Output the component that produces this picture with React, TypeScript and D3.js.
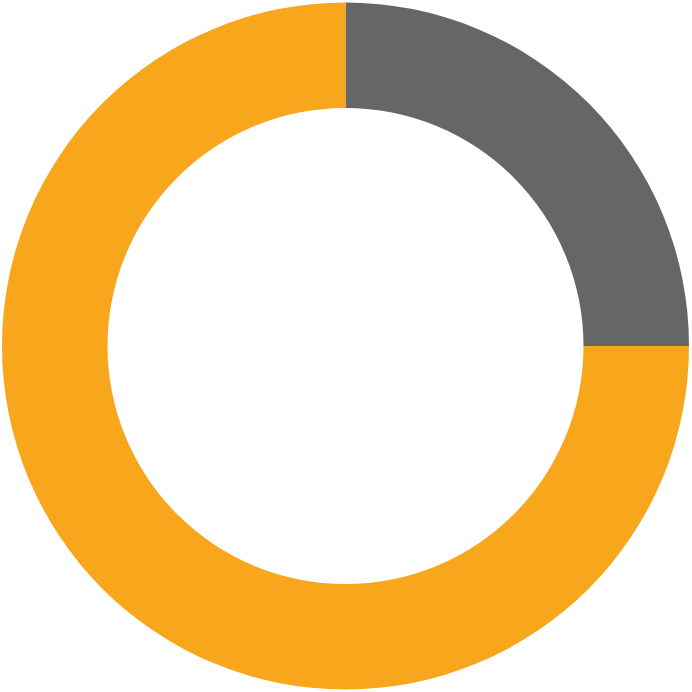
import React, { useEffect, useRef } from 'react';
import * as d3 from 'd3';

const labels = ['Gray', 'Orange'];
const values = [25, 75];
const colors = ['#656766', '#F8A61C'];

export default function App() {
    const ref = useRef<SVGSVGElement>(null);

    useEffect(() => {
        if (!ref.current) return;
        const svg = d3.select(ref.current);
        svg.selectAll('*').remove();

        const width = 692;
        const height = 692;
        const cx = 345.5;
        const cy = 346;
        const outer = 343.5;
        const inner = 238;

        const pie = d3.pie<number>().sort(null).value(d => d);
        const arc = d3.arc<d3.PieArcDatum<number>>().innerRadius(inner).outerRadius(outer);

        const g = svg.append('g').attr('transform', `translate(${cx},${cy})`);

        g.selectAll('path')
            .data(pie(values))
            .enter()
            .append('path')
            .attr('d', arc)
            .attr('fill', (d, i) => colors[i])
            .attr('data-label', (d, i) => labels[i]);

        svg.attr('width', width).attr('height', height);
    }, []);

    return (
        <svg ref={ref} style={{ position: 'absolute', left: 0, top: 0, display: 'block' }} />
    );
}
